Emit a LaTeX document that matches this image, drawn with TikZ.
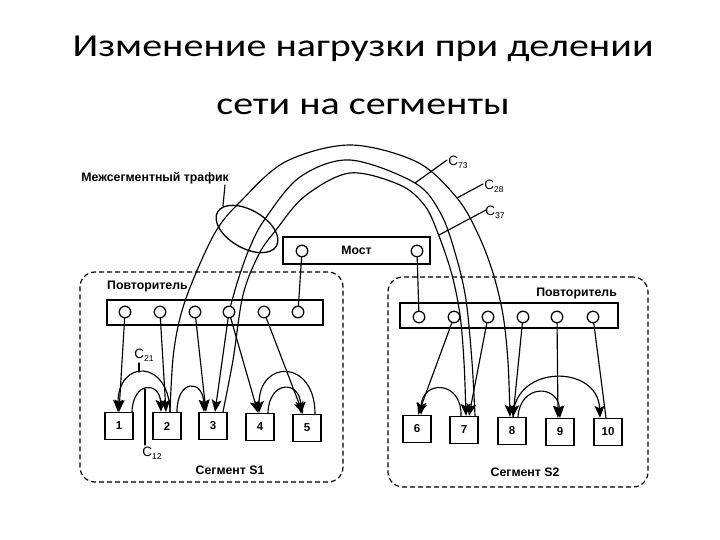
\documentclass[tikz,border=0pt]{standalone}
\usepackage{fontspec}
\setmainfont{Carlito}
\newfontfamily\lab{Liberation Sans}
\usetikzlibrary{arrows.meta,shapes.geometric,shadows,calc}
\newcommand\Csub[1]{C\raisebox{-3pt}{\fontsize{8.5}{9}\selectfont #1}}
\begin{document}
\begin{tikzpicture}[x=1pt,y=-1pt,
  >={Stealth[length=12pt,width=10pt,inset=2.5pt]},
  conn/.style={line width=1.15pt,line cap=round},
  arr/.style={line width=1.15pt,->},
  nbox/.style={draw,line width=1.4pt,fill=white,minimum width=28pt,minimum height=27pt,inner sep=0pt,
    font=\lab\bfseries\fontsize{11.5}{12}\selectfont,
    drop shadow={shadow xshift=0.9pt,shadow yshift=-0.9pt,opacity=1,fill=black!85}},
  repbox/.style={draw,line width=1.4pt,fill=white,inner sep=0pt},
  circ/.style={circle,draw,line width=1.3pt,fill=white,minimum size=11.5pt,inner sep=0pt},
  dashbox/.style={draw,line width=1.2pt,dash pattern=on 5pt off 3pt,rounded corners=15pt,inner sep=0pt},
  txt/.style={font=\lab\bfseries\fontsize{12.3}{13}\selectfont,inner sep=0pt},
  clab/.style={font=\lab\fontsize{13.5}{14}\selectfont,inner sep=0pt},
  title/.style={font=\fontsize{32}{36}\selectfont,inner sep=0pt,anchor=base}
]
\useasboundingbox[fill=white] (0,0) rectangle (720,540);

% title
\node[title] (t1) at (363,57) {\scalebox{1.25}[1]{Изменение нагрузки при делении}};
\node[title] (t2) at (363,115) {\scalebox{1.25}[1]{сети на сегменты}};

% segment frames
\node[dashbox,minimum width=263pt,minimum height=210pt] (seg1) at (211.5,377) {};
\node[dashbox,minimum width=260pt,minimum height=210pt] (seg2) at (518,382) {};
\node[txt] (segl1) at (230,470) {Сегмент S1};
\node[txt] (segl2) at (525,472) {Сегмент S2};

% repeaters and bridge
\node[repbox,minimum width=216pt,minimum height=25pt] (rep1) at (215,312.5) {};
\node[repbox,minimum width=218pt,minimum height=25pt] (rep2) at (509,315.5) {};
\node[repbox,minimum width=147pt,minimum height=27pt,txt] (bridge) at (356.5,250.5) {Мост};
\node[txt,anchor=west] (repl1) at (107,287) {Повторитель};
\node[txt,anchor=east] (repl2) at (617,294) {Повторитель};

% end stations
\node[nbox] (n1) at (119,426) {1};
\node[nbox] (n2) at (167,426) {2};
\node[nbox] (n3) at (213,426) {3};
\node[nbox] (n4) at (260,427) {4};
\node[nbox] (n5) at (307,428) {5};
\node[nbox] (n6) at (417,429) {6};
\node[nbox] (n7) at (464,430) {7};
\node[nbox] (n8) at (512,431) {8};
\node[nbox] (n9) at (560,432) {9};
\node[nbox] (n10) at (608,432) {10};

% port coordinates
\foreach \i/\x in {1/125,2/160,3/195,4/229,5/264,6/298}{\coordinate (a\i) at (\x,312);}
\foreach \i/\x in {1/419,2/454,3/488,4/523,5/557,6/593}{\coordinate (b\i) at (\x,317);}
\coordinate (bl) at (302,251);
\coordinate (br) at (417,251);

% repeater -> station links, segment 1
\draw[conn] (a6) -- (bl);
\draw[arr] (a1) -- ($(n1.north)+(0,0)$);
\draw[arr] (a2) -- ($(n2.north)+(-1,0)$);
\draw[arr] (a3) -- ($(n3.north)+(-7,0)$);
\draw[arr] (a4) -- ($(n3.north)+(2,0)$);
\draw[arr] (a4) -- ($(n4.north)+(-2,0)$);
\draw[arr] (a5) -- ($(n5.north)+(-4,0)$);
% segment 2
\draw[conn] (br) -- (b1);
\draw[arr] (b2) -- ($(n6.north)+(1,0)$);
\draw[arr] (b3) -- ($(n7.north)+(5,0)$);
\draw[arr] (b4) -- ($(n8.north)+(1,0)$);
\draw[arr] (b5) -- ($(n9.north)+(-2,0)$);
\draw[conn] (b6) -- ($(n10.north)+(-2,0)$);

% local traffic arcs, segment 1
\draw[arr] ($(n1.north)+(13,0)$) .. controls (133,381) and (160,381) .. ($(n2.north)+(-6,0)$);
\draw[arr] ($(n2.north)+(3,0)$) .. controls (169,359) and (118,359) .. ($(n1.north)+(-1,0)$);
\draw[arr] ($(n2.north)+(10,0)$) .. controls (177,379) and (203,379) .. ($(n3.north)+(-9,0)$);
\draw[arr] ($(n4.north)+(8,0)$) .. controls (269,380) and (300,380) .. ($(n5.north)+(-6,0)$);
\draw[arr] ($(n5.north)+(8,0)$) .. controls (315,359) and (259,359) .. ($(n4.north)+(-1,0)$);
% segment 2
\draw[arr] ($(n7.north)+(-3,0)$) .. controls (462,380) and (422,380) .. ($(n6.north)+(4,0)$);
\draw[arr] ($(n8.north)+(6,0)$) .. controls (520,384) and (558,384) .. ($(n9.north)+(0,0)$);
\draw[arr] ($(n8.north)+(1,0)$) .. controls (514,364) and (598,364) .. ($(n10.north)+(-8,0)$);

% inter-segment traffic arcs
\coordinate (o2) at ($(n2.north)+(3,0)$);
\coordinate (o8) at ($(n8.north)+(-2,0)$);
\coordinate (m7) at ($(n7.north)+(11,0)$);
\coordinate (i3) at ($(n3.north)+(10,0)$);
\coordinate (i7) at ($(n7.north)+(2,0)$);
\draw[arr] plot[smooth,tension=0.55] coordinates {(o2) (173,358) (180,318) (193,280) (216,231) (240,202) (285,162) (350,145) (417,162) (457,198) (478,234) (493,273) (503,315) (508,362) (o8)};
\draw[conn] plot[smooth,tension=0.55] coordinates {(m7) (472,362) (466,300) (456,256) (441,214) (415,183) (350,160) (300,177) (265,219) (250,247) (238,280) (a4)};
\draw[arr] plot[smooth,tension=0.55] coordinates {(i3) (233,360) (243,295) (259,254) (276,230) (305,196) (350,173) (400,185) (425,206) (439,236) (452,275) (460,315) (464,362) (i7)};

% ports drawn on top
\foreach \i in {1,...,6}{\node[circ] (pa\i) at (a\i) {}; \node[circ] (pb\i) at (b\i) {};}
\node[circ] (pbl) at (bl) {};
\node[circ] (pbr) at (br) {};

% intersegment ellipse and labels
\node[draw,ellipse,line width=1.3pt,minimum width=68pt,minimum height=38pt,inner sep=0pt,rotate=-30] (ell) at (247,229) {};
\node[txt,anchor=east] (mtr) at (229,178) {Межсегментный трафик};
\coordinate (mtrend) at (223,206);
\draw[conn] (225,185) -- (mtrend);

\node[clab] (c73) at (458,162) {\Csub{73}};
\node[clab] (c28) at (494,186) {\Csub{28}};
\node[clab] (c37) at (495,212) {\Csub{37}};
\node[clab] (c21) at (144,355) {\Csub{21}};
\node[clab] (c12) at (152,453) {\Csub{12}};
\coordinate (e73) at (415,183);
\coordinate (e28) at (457,198);
\coordinate (e37) at (439,235);
\draw[conn] (447,160) -- (e73);
\draw[conn] (483,184) -- (e28);
\draw[conn] (486,210) -- (e37);
\draw[conn] (139,363) -- (139,372);
\draw[conn] (145,389) -- (145,445);
\end{tikzpicture}
\end{document}
